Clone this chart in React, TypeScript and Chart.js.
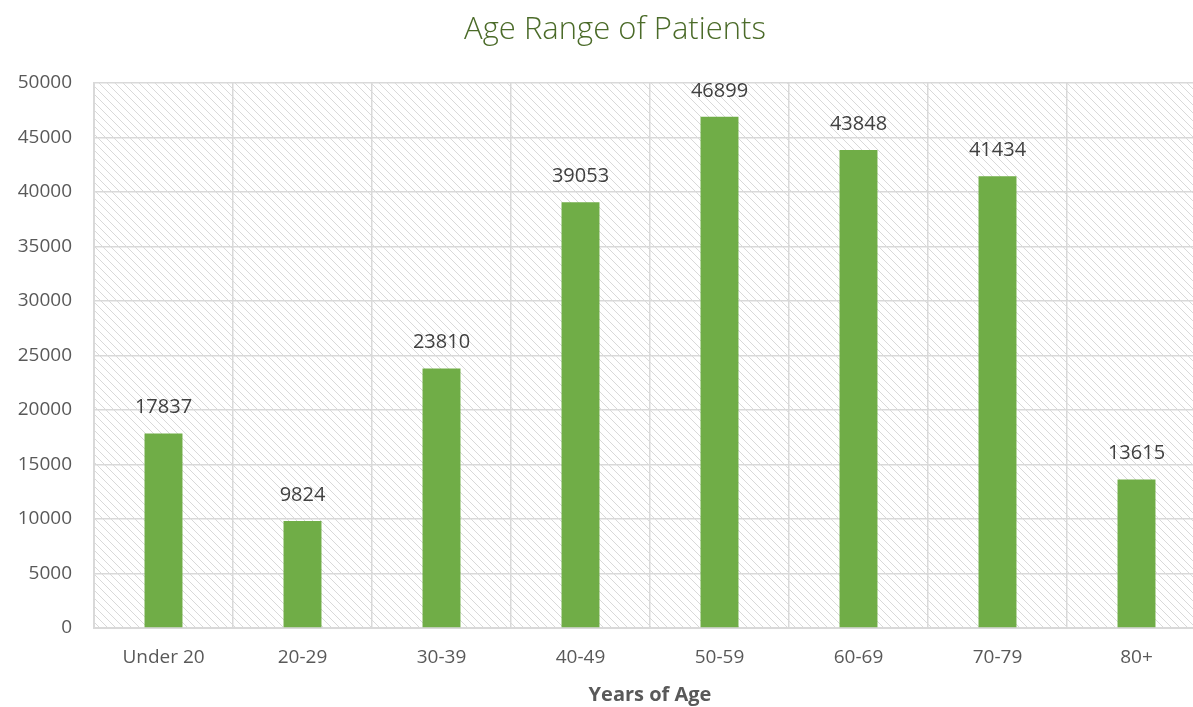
import React, { useEffect, useRef } from "react";
import { Chart, registerables } from "chart.js";

Chart.register(...registerables);

const categories = ["Under 20", "20-29", "30-39", "40-49", "50-59", "60-69", "70-79", "80+"];
const patients = [17837, 9824, 23810, 39053, 46899, 43848, 41434, 13615];
const yMax = 50000;
const yStep = 5000;

const FONT = "'Open Sans', Lato, sans-serif";
const CANVAS_W = 1230;
const CANVAS_H = 707;

function makePattern(): CanvasPattern | string {
  const c = document.createElement("canvas");
  c.width = 8;
  c.height = 8;
  const g = c.getContext("2d");
  if (!g) return "#eeeeee";
  g.fillStyle = "#ffffff";
  g.fillRect(0, 0, 8, 8);
  g.strokeStyle = "#d9d9d9";
  g.lineWidth = 1;
  g.beginPath();
  g.moveTo(-1, -1);
  g.lineTo(9, 9);
  g.moveTo(-1, 7);
  g.lineTo(1, 9);
  g.moveTo(7, -1);
  g.lineTo(9, 1);
  g.stroke();
  const p = g.createPattern(c, "repeat");
  return p || "#eeeeee";
}

const hatchPlugin = {
  id: "hatch",
  beforeDraw(chart: any) {
    const { ctx, chartArea } = chart;
    if (!chartArea) return;
    ctx.save();
    ctx.fillStyle = makePattern();
    ctx.fillRect(chartArea.left, chartArea.top, chartArea.right - chartArea.left, chartArea.bottom - chartArea.top);
    ctx.restore();
  },
};

const labelPlugin = {
  id: "valueLabels",
  afterDatasetsDraw(chart: any) {
    const { ctx } = chart;
    const meta = chart.getDatasetMeta(0);
    const data = chart.data.datasets[0].data as number[];
    ctx.save();
    ctx.font = `20px ${FONT}`;
    ctx.fillStyle = "#404040";
    ctx.textAlign = "center";
    ctx.textBaseline = "middle";
    meta.data.forEach((bar: any, i: number) => {
      ctx.fillText(String(data[i]), bar.x, bar.y - 26);
    });
    ctx.restore();
  },
};

export default function App() {
  const ref = useRef<HTMLCanvasElement>(null);
  useEffect(() => {
    if (!ref.current) return;
    const chart = new Chart(ref.current, {
      type: "bar",
      data: {
        labels: categories,
        datasets: [
          {
            label: "Patients",
            data: patients,
            backgroundColor: "#70ad47",
            borderWidth: 0,
            barPercentage: 0.273,
            categoryPercentage: 1,
          },
        ],
      },
      plugins: [hatchPlugin, labelPlugin],
      options: {
        responsive: false,
        animation: false,
        devicePixelRatio: 1,
        layout: { padding: 0 },
        plugins: {
          legend: { display: false },
          tooltip: { enabled: false },
          title: {
            display: true,
            text: "Age Range of Patients",
            color: "#4b6b29",
            font: { family: FONT, size: 31, weight: "300" as any, lineHeight: 1.2 },
            padding: { top: 12, bottom: 33.8 },
          },
        },
        scales: {
          x: {
            grid: { color: "#d9d9d9", lineWidth: 1.5, drawTicks: false, offset: true },
            border: { display: true, color: "#d9d9d9", width: 2 },
            ticks: { color: "#595959", font: { family: FONT, size: 19 }, padding: 18 },
            title: {
              display: true,
              text: "Years of Age",
              color: "#595959",
              font: { family: FONT, size: 20, weight: "bold" },
              padding: { top: 1, bottom: 0 },
            },
            afterFit(scale: any) {
              scale.height = CANVAS_H - 628;
            },
          },
          y: {
            min: 0,
            max: yMax,
            grid: { color: "#d9d9d9", lineWidth: 1.5, drawTicks: false },
            border: { display: true, color: "#d9d9d9", width: 2 },
            ticks: {
              stepSize: yStep,
              color: "#595959",
              font: { family: FONT, size: 19 },
              padding: 22,
              callback: (v: any) => String(v),
            },
            afterFit(scale: any) {
              scale.width = 94;
            },
          },
          yRight: {
            position: "right",
            display: true,
            min: 0,
            max: yMax,
            grid: { display: false, drawTicks: false },
            border: { display: false },
            ticks: { display: false },
            afterFit(scale: any) {
              scale.width = 24;
            },
          },
        },
      },
    });
    return () => chart.destroy();
  }, []);
  return (
    <div
      style={{
        position: "fixed",
        left: 0,
        top: 0,
        width: 1193,
        height: 707,
        overflow: "hidden",
        background: "#ffffff",
      }}
    >
      <canvas ref={ref} width={CANVAS_W} height={CANVAS_H} style={{ display: "block", width: CANVAS_W, height: CANVAS_H }} />
    </div>
  );
}
